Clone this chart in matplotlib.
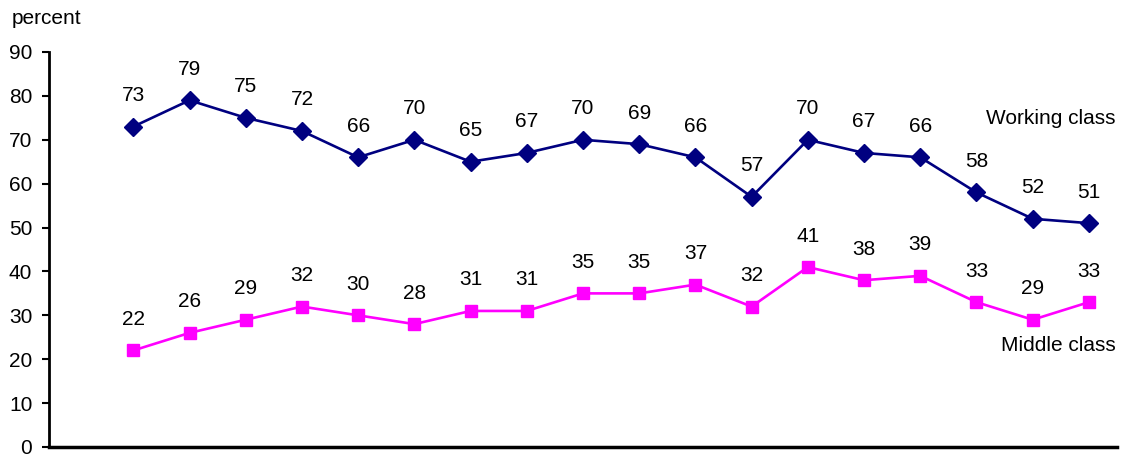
import matplotlib.pyplot as plt

plt.rcParams['font.family'] = ['Liberation Sans', 'DejaVu Sans']

working = [73, 79, 75, 72, 66, 70, 65, 67, 70, 69, 66, 57, 70, 67, 66, 58, 52, 51]
middle = [22, 26, 29, 32, 30, 28, 31, 31, 35, 35, 37, 32, 41, 38, 39, 33, 29, 33]
xs = list(range(len(working)))

fig = plt.figure(figsize=(11.22, 4.55), dpi=100)
ax = fig.add_axes([49 / 1122, 8 / 455, 1068 / 1122, 395 / 455])

ax.plot(xs, working, color='#000080', lw=1.9, marker='D', markersize=9, clip_on=False)
ax.plot(xs, middle, color='#FF00FF', lw=1.9, marker='s', markersize=9, clip_on=False)

for x, v in zip(xs, working):
    ax.annotate(str(v), (x, v), xytext=(0, 15.5), textcoords='offset points',
                ha='center', va='bottom', fontsize=15)
for x, v in zip(xs, middle):
    ax.annotate(str(v), (x, v), xytext=(0, 15.5), textcoords='offset points',
                ha='center', va='bottom', fontsize=15)

ax.text(17.48, 74.8, "Working class", ha='right', va='center', fontsize=15)
ax.text(17.48, 23.2, "Middle class", ha='right', va='center', fontsize=15)

ax.set_xlim(-1.5, 17.5)
ax.set_ylim(0, 90)
ax.set_yticks(range(0, 91, 10))
ax.set_xticks([])
ax.tick_params(axis='y', labelsize=15, length=5, width=1.5, direction='out', pad=7)
for s in ['top', 'right']:
    ax.spines[s].set_visible(False)
ax.spines['left'].set_linewidth(2)
ax.spines['bottom'].set_linewidth(2.5)

fig.text(12 / 1122, 1 - 18 / 455, "percent", ha='left', va='center', fontsize=15)

fig.savefig('out.png', dpi=100)
